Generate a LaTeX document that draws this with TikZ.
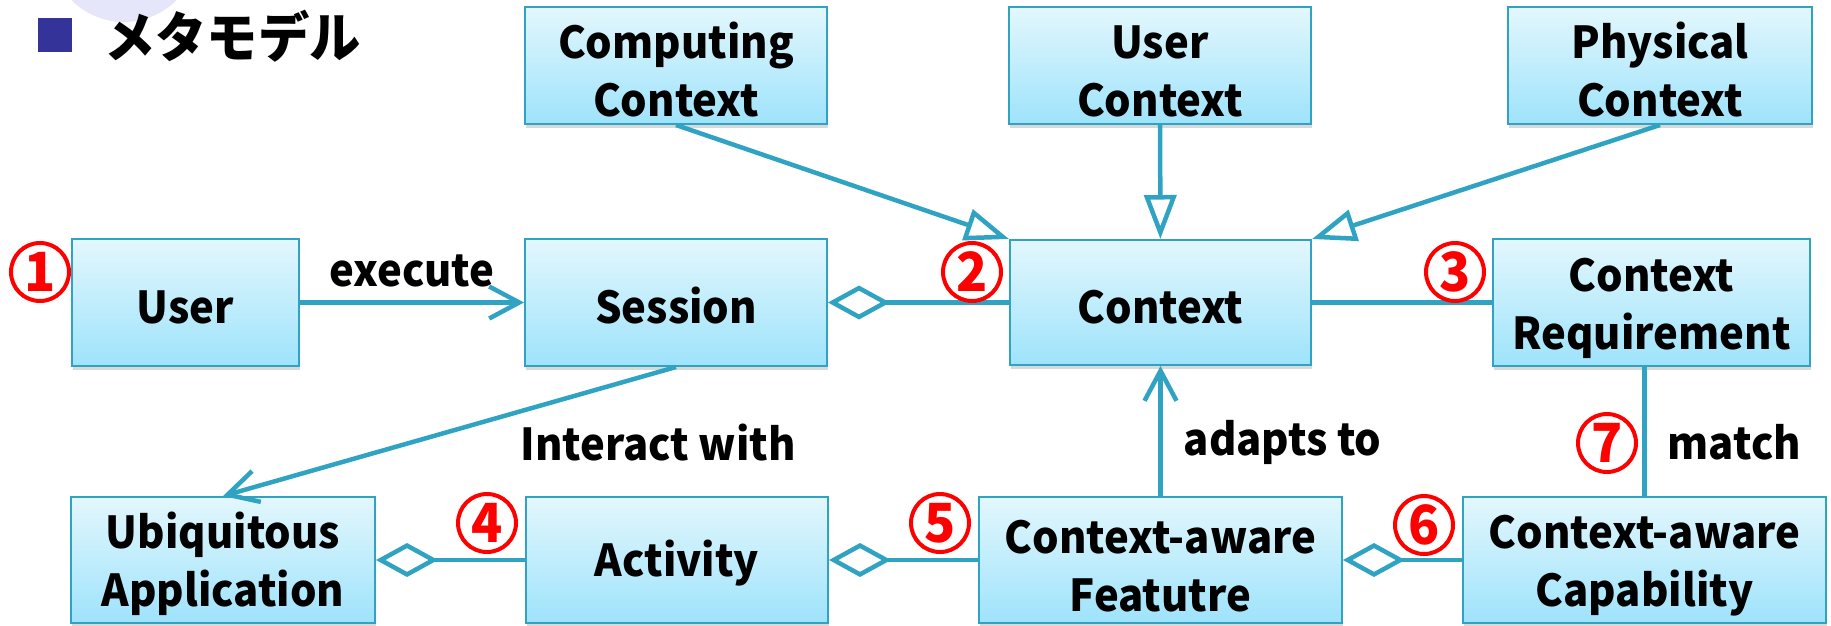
\documentclass[tikz,border=0pt]{standalone}
\usepackage{fontspec}
\setmainfont{Noto Sans CJK JP}[FakeStretch=0.95]
\usetikzlibrary{arrows.meta,shadows}

\definecolor{umlline}{HTML}{30A3C3}
\definecolor{boxtop}{HTML}{E3F7FD}
\definecolor{boxbot}{HTML}{9EE3FB}
\definecolor{bulletblue}{HTML}{333399}
\definecolor{haze}{HTML}{E6E6FA}

\tikzset{
  cls/.style={rectangle, draw=umlline, line width=2pt, top color=boxtop,
    bottom color=boxbot, align=center, inner sep=0pt,
    font=\bfseries\fontsize{44}{58}\selectfont,
    execute at begin node={\rule{0pt}{43pt}},
    drop shadow={shadow xshift=1pt, shadow yshift=-4pt, opacity=0.3}},
  twoline/.style={execute at begin node={\rule{0pt}{103pt}}},
  num/.style={circle, draw=red, line width=4pt, text=red, minimum size=58pt,
    inner sep=0pt, font=\bfseries\fontsize{54}{54}\selectfont},
  lbl/.style={inner sep=0pt, font=\bfseries\fontsize{44}{50}\selectfont},
  gen/.style={-{Triangle[length=44pt, width=32pt, fill=white]}},
  nav/.style={-{Straight Barb[length=30pt, width=32pt]}},
  agg/.style={-{Diamond[length=62pt, width=34pt, fill=white]}},
}

\begin{document}
\begin{tikzpicture}[x=1pt, y=-1pt]
  \useasboundingbox (0,0) rectangle (1831,625);
  % heading
  \fill[haze] (124,-52) circle (74pt);
  \node (bullet) [fill=bulletblue, minimum size=34pt, inner sep=0pt] at (55,35) {};
  \node (title) [anchor=west, inner sep=0pt, font=\bfseries\fontsize{54}{54}\selectfont] at (104,36) {メタモデル};

  \begin{scope}[every node/.style=cls]
    \node (comp) [twoline, minimum width=302pt, minimum height=117pt] at (676,65.5) {Computing\\Context};
    \node (usrctx) [twoline, minimum width=302pt, minimum height=117pt] at (1160,65.5) {User\\Context};
    \node (phys) [twoline, minimum width=304pt, minimum height=117pt] at (1660,65.5) {Physical\\Context};
    \node (user) [minimum width=227pt, minimum height=127pt] at (185.5,302.5) {User};
    \node (session) [minimum width=302pt, minimum height=127pt] at (676,302.5) {Session};
    \node (ctx) [minimum width=301pt, minimum height=125pt] at (1160.5,302.5) {Context};
    \node (ctxreq) [twoline, minimum width=317pt, minimum height=127pt] at (1651.5,302.5) {Context\\Requirement};
    \node (ubiq) [twoline, minimum width=304pt, minimum height=126pt] at (223,560) {Ubiquitous\\Application};
    \node (activity) [minimum width=302pt, minimum height=126pt] at (677,560) {Activity};
    \node (feat) [twoline, minimum width=363pt, minimum height=126pt] at (1160.5,560) {Context-aware\\Featutre};
    \node (cap) [twoline, minimum width=363pt, minimum height=126pt] at (1644.5,560) {Context-aware\\Capability};
  \end{scope}

  \begin{scope}[every edge/.style={draw=umlline, line width=4.5pt}]
    \path (comp.south) edge[gen] (ctx.north west);
    \path (usrctx) edge[gen] (ctx);
    \path (phys.south) edge[gen] (ctx.north east);
    \path (user) edge[nav] node[lbl, above=13pt] {execute} (session);
    \path (ctx) edge[agg] (session);
    \path (ctx) edge (ctxreq);
    \path (session.south) edge[nav] (ubiq.north);
    \path (activity) edge[agg] (ubiq);
    \path (feat) edge[agg] (activity);
    \path (cap) edge[agg] (feat);
    \path (feat) edge[nav] node[lbl, right=21pt, yshift=-11pt] {adapts to} (ctx);
    \path (cap.north) edge node[lbl, right=21pt, yshift=-11pt] {match} (cap.north |- ctxreq.south);
  \end{scope}

  \node (interact) [lbl] at (658,443) {Interact with};

  % numbered markers
  \begin{scope}[every node/.style=num]
    \node (n1) at (40,272) {1};
    \node (n2) at (972,272) {2};
    \node (n3) at (1455,272) {3};
    \node (n4) at (487,523) {4};
    \node (n5) at (940,523) {5};
    \node (n6) at (1424,525) {6};
    \node (n7) at (1607,443) {7};
  \end{scope}
\end{tikzpicture}
\end{document}
